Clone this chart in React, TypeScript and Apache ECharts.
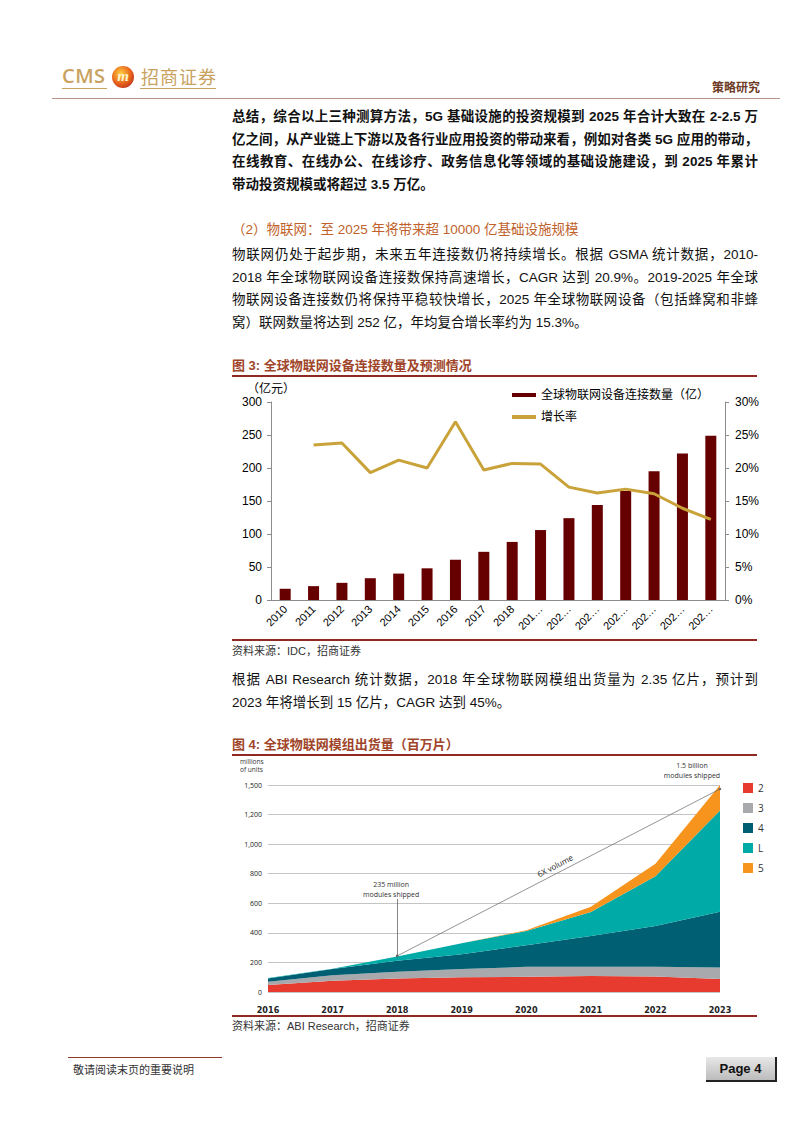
import React, { useEffect, useRef } from 'react';
import * as echarts from 'echarts';

// ---------- Figure 3 data ----------
const years3 = ['2010', '2011', '2012', '2013', '2014', '2015', '2016', '2017', '2018', '2019E', '2020E', '2021E', '2022E', '2023E', '2024E', '2025E'];
const connections = [17, 21, 26, 33, 40, 48, 61, 73, 88, 106, 124, 144, 165, 195, 222, 249];
const growthRate = [null, 23.5, 23.8, 19.3, 21.2, 20.0, 27.0, 19.7, 20.7, 20.6, 17.1, 16.2, 16.8, 16.1, 13.9, 12.2];
const barName = '全球物联网设备连接数量（亿）';
const lineName = '增长率';

// ---------- Figure 4 data ----------
const years4 = ['2016', '2017', '2018', '2019', '2020', '2021', '2022', '2023'];
const names4 = ['2G', '3G', '4G', 'LPWA', '5G'];
const shipped2G = [47, 76, 92, 99, 103, 108, 105, 88];
const shipped3G = [22, 38, 45, 56, 67, 62, 65, 78];
const shipped4G = [23, 41, 74, 101, 146, 209, 276, 377];
const shippedLPWA = [2, 3, 29, 74, 97, 162, 337, 684];
const shipped5G = [0, 0, 0, 0, 5, 36, 85, 173];
const colors4 = ['#e63b2e', '#a7a9ac', '#005f72', '#00aaa7', '#f7941e'];

const LATIN = '"Liberation Sans", Arial, "Noto Sans CJK SC", sans-serif';
const CJK = '"Liberation Sans", "Noto Sans CJK SC", sans-serif';
const SMALL = '"Open Sans", "Noto Sans", sans-serif';

function EChart({ option, style }: { option: any; style: React.CSSProperties }) {
  const ref = useRef<HTMLDivElement>(null);
  useEffect(() => {
    const chart = echarts.init(ref.current as HTMLDivElement, undefined, { renderer: 'svg' });
    chart.setOption(option);
    return () => chart.dispose();
  }, []);
  return <div ref={ref} style={style} />;
}

const axisGrey = '#8c8c8c';

const option3 = {
  animation: false,
  textStyle: { fontFamily: LATIN },
  grid: { left: 46, top: 24, width: 454, height: 198 },
  legend: {
    orient: 'vertical',
    left: 282,
    top: 6,
    itemWidth: 24,
    itemHeight: 4,
    itemGap: 10,
    textStyle: { fontSize: 12, color: '#000', fontFamily: CJK },
    data: [{ name: barName, icon: 'rect' }, { name: lineName, icon: 'rect' }],
  },
  graphic: [
    { type: 'text', left: 22, top: 3, style: { text: '（亿元）', fontSize: 12, fill: '#000', fontFamily: '"Noto Sans CJK SC", sans-serif' } },
  ],
  xAxis: {
    type: 'category',
    data: years3,
    axisLine: { lineStyle: { color: axisGrey } },
    axisTick: { length: 4, lineStyle: { color: axisGrey } },
    axisLabel: {
      rotate: 45,
      interval: 0,
      fontSize: 11,
      color: '#000',
      margin: 7,
      formatter: (v: string) => (v.length > 4 ? v.slice(0, 3) + '…' : v),
    },
  },
  yAxis: [
    {
      type: 'value', min: 0, max: 300, interval: 50,
      axisLine: { show: true, lineStyle: { color: axisGrey } },
      axisTick: { show: true, length: 4, lineStyle: { color: axisGrey } },
      splitLine: { show: false },
      axisLabel: { fontSize: 12, color: '#000', margin: 9 },
    },
    {
      type: 'value', min: 0, max: 30, interval: 5, position: 'right',
      axisLine: { show: true, lineStyle: { color: axisGrey } },
      axisTick: { show: true, length: 4, lineStyle: { color: axisGrey } },
      splitLine: { show: false },
      axisLabel: { fontSize: 12, color: '#000', margin: 10, formatter: '{value}%' },
    },
  ],
  series: [
    { type: 'bar', name: barName, data: connections, barWidth: 11, itemStyle: { color: '#660000' } },
    {
      type: 'line', name: lineName, yAxisIndex: 1, data: growthRate, symbol: 'none',
      lineStyle: { color: '#c9a23a', width: 3 }, itemStyle: { color: '#c9a23a' },
    },
  ],
};

const data4 = [shipped2G, shipped3G, shipped4G, shippedLPWA, shipped5G];

const series4: any[] = names4.map((n, i) => ({
  type: 'line',
  name: n,
  stack: 'total',
  data: data4[i],
  symbol: 'none',
  lineStyle: { width: 0 },
  itemStyle: { color: colors4[i] },
  areaStyle: { color: colors4[i], opacity: 1 },
}));

// vertical pointer to 2018 total
series4[2].markLine = {
  silent: true,
  symbol: ['none', 'circle'],
  symbolSize: 2.5,
  label: { show: false },
  lineStyle: { color: '#555', width: 0.7, type: 'solid' },
  data: [[{ coord: [2, 630] }, { coord: [2, 244] }]],
};
// diagonal "6X volume"
series4[4].markLine = {
  silent: true,
  symbol: ['circle', 'circle'],
  symbolSize: 2.5,
  lineStyle: { color: '#666', width: 0.7, type: 'solid' },
  label: { show: true, position: 'middle', formatter: '6X volume', fontSize: 8, color: '#222', fontFamily: SMALL, distance: 4 },
  data: [[{ coord: [2, 244] }, { coord: [6.85, 1373] }]],
};
series4[3].markPoint = {
  silent: true,
  symbol: 'circle',
  symbolSize: 0,
  label: { show: true, position: 'inside', fontSize: 7, lineHeight: 10, color: '#333', fontFamily: SMALL },
  data: [
    { coord: [2, 690], value: 0, label: { formatter: '235 million\nmodules shipped', offset: [-6, 0] } },
    { coord: [7, 1400], value: 0, label: { formatter: '1.5 billion\nmodules shipped', offset: [-28, -15] } },
  ],
};

const option4 = {
  animation: false,
  textStyle: { fontFamily: SMALL },
  grid: { left: 43, top: 29, width: 452, height: 208 },
  legend: {
    orient: 'vertical',
    left: 513,
    top: 22,
    itemWidth: 10,
    itemHeight: 10,
    itemGap: 10,
    icon: 'rect',
    formatter: (n: string) => n.charAt(0),
    textStyle: { fontSize: 10, color: '#333', fontFamily: SMALL },
    data: names4,
  },
  graphic: [
    { type: 'text', left: 15, top: 1, style: { text: 'millions\nof units', fontSize: 6.5, lineHeight: 8, fill: '#333', fontFamily: SMALL } },
  ],
  xAxis: {
    type: 'category',
    data: years4,
    boundaryGap: false,
    axisLine: { show: false },
    axisTick: { show: false },
    axisLabel: { fontSize: 9, fontWeight: 'bold', color: '#222', margin: 13, fontFamily: '"Liberation Sans Narrow", "DejaVu Sans Condensed", "Liberation Sans", sans-serif' },
  },
  yAxis: {
    type: 'value', min: 0, max: 1400, interval: 200,
    axisLine: { show: false },
    axisTick: { show: false },
    splitLine: { lineStyle: { color: '#b5b5b5', width: 0.8 } },
    axisLabel: {
      fontSize: 7, color: '#222', margin: 6,
      formatter: (v: number) => (v === 1400 ? '1,500' : v.toLocaleString('en-US')),
    },
  },
  series: series4,
};

const P1 = [
  '总结，综合以上三种测算方法，5G 基础设施的投资规模到 2025 年合计大致在 2-2.5 万',
  '亿之间，从产业链上下游以及各行业应用投资的带动来看，例如对各类 5G 应用的带动，',
  '在线教育、在线办公、在线诊疗、政务信息化等领域的基础设施建设，到 2025 年累计',
  '带动投资规模或将超过 3.5 万亿。',
];
const P2 = [
  '物联网仍处于起步期，未来五年连接数仍将持续增长。根据 GSMA 统计数据，2010-',
  '2018 年全球物联网设备连接数保持高速增长，CAGR 达到 20.9%。2019-2025 年全球',
  '物联网设备连接数仍将保持平稳较快增长，2025 年全球物联网设备（包括蜂窝和非蜂',
  '窝）联网数量将达到 252 亿，年均复合增长率约为 15.3%。',
];
const P3 = [
  '根据 ABI Research 统计数据，2018 年全球物联网模组出货量为 2.35 亿片，预计到',
  '2023 年将增长到 15 亿片，CAGR 达到 45%。',
];

function Para({ lines, top, bold }: { lines: string[]; top: number; bold?: boolean }) {
  return (
    <div style={{ position: 'absolute', left: 232, top, width: 526, fontSize: 13.5, lineHeight: '22.6px', fontWeight: bold ? 700 : 400, color: '#111' }}>
      {lines.map((l, i) => (
        <div
          key={i}
          style={{
            textAlign: i < lines.length - 1 ? 'justify' : 'left',
            textAlignLast: i < lines.length - 1 ? 'justify' : 'left',
            height: 22.6,
          } as React.CSSProperties}
        >
          {l}
        </div>
      ))}
    </div>
  );
}

const gold = '#c9a25f';
const titleColor = '#a0452a';
const ruleColor = '#8e2a22';

export default function App() {
  const abs = (s: React.CSSProperties): React.CSSProperties => ({ position: 'absolute', ...s });
  return (
    <div style={{ position: 'absolute', left: 0, top: 0, width: 802, height: 1133, background: '#fff', overflow: 'hidden', fontFamily: CJK }}>
      {/* header */}
      <div style={abs({ left: 62, top: 65, fontSize: 20, lineHeight: '22px', fontFamily: '"Open Sans", "Liberation Sans", sans-serif', fontWeight: 600, color: gold, letterSpacing: 0.5 })}>CMS</div>
      <div style={abs({ left: 62, top: 88, width: 45, height: 1, background: gold })} />
      <div
        style={abs({
          left: 112, top: 66, width: 22, height: 22, borderRadius: 11,
          background: 'radial-gradient(circle at 40% 35%, #ffd040 0%, #e8651c 50%, #a3161a 100%)',
          color: '#fff4c8', fontSize: 15, fontWeight: 700, fontStyle: 'italic', textAlign: 'center', lineHeight: '20px',
          fontFamily: '"Liberation Serif", serif',
        })}
      >
        m
      </div>
      <div style={abs({ left: 141, top: 65, fontSize: 18, lineHeight: '22px', color: gold, letterSpacing: 1, fontFamily: '"Noto Sans CJK SC", sans-serif' })}>招商证券</div>
      <div style={abs({ left: 140, top: 88, width: 76, height: 1, background: gold })} />
      <div style={abs({ left: 712, top: 80, fontSize: 12, lineHeight: '14px', color: '#6e3b26', fontWeight: 600, fontFamily: '"Noto Sans CJK SC", sans-serif' })}>策略研究</div>
      <div style={abs({ left: 52, top: 98, width: 728, height: 1, background: '#b89488' })} />

      <Para lines={P1} top={106} bold />

      <div style={abs({ left: 232, top: 219, fontSize: 13.5, lineHeight: '22px', color: '#c0612b', whiteSpace: 'nowrap' })}>
        （2）物联网：至 2025 年将带来超 10000 亿基础设施规模
      </div>

      <Para lines={P2} top={244} />

      {/* Figure 3 */}
      <div style={abs({ left: 232, top: 357, fontSize: 13, lineHeight: '17px', fontWeight: 700, color: titleColor, whiteSpace: 'nowrap' })}>
        图 3: 全球物联网设备连接数量及预测情况
      </div>
      <div style={abs({ left: 232, top: 375, width: 525, height: 2, background: ruleColor })} />
      <EChart option={option3} style={{ position: 'absolute', left: 225, top: 378, width: 545, height: 262 }} />
      <div style={abs({ left: 232, top: 639, width: 525, height: 2, background: ruleColor })} />
      <div style={abs({ left: 232, top: 644, fontSize: 11, lineHeight: '14px', color: '#333' })}>资料来源：IDC，招商证券</div>

      <Para lines={P3} top={669} />

      {/* Figure 4 */}
      <div style={abs({ left: 232, top: 736, fontSize: 13, lineHeight: '17px', fontWeight: 700, color: titleColor, whiteSpace: 'nowrap' })}>
        图 4: 全球物联网模组出货量（百万片）
      </div>
      <div style={abs({ left: 232, top: 754, width: 525, height: 2, background: ruleColor })} />
      <EChart option={option4} style={{ position: 'absolute', left: 225, top: 756, width: 555, height: 258 }} />
      <div style={abs({ left: 232, top: 1015, width: 525, height: 2, background: ruleColor })} />
      <div style={abs({ left: 232, top: 1019, fontSize: 11, lineHeight: '14px', color: '#333' })}>资料来源：ABI Research，招商证券</div>

      {/* footer */}
      <div style={abs({ left: 68, top: 1057, width: 154, height: 1, background: '#8e3a2a' })} />
      <div style={abs({ left: 73, top: 1063, fontSize: 11, lineHeight: '14px', color: '#333' })}>敬请阅读末页的重要说明</div>
      <div
        style={abs({
          left: 706, top: 1057, width: 69, height: 23,
          background: 'linear-gradient(#e8e8e8, #bcbcbc)',
          borderRight: '2px solid #222', borderBottom: '2px solid #222',
          textAlign: 'center', lineHeight: '23px', fontSize: 13, fontWeight: 700, color: '#111',
          fontFamily: '"Liberation Sans Narrow", "Liberation Sans", sans-serif',
        })}
      >
        Page 4
      </div>
    </div>
  );
}
